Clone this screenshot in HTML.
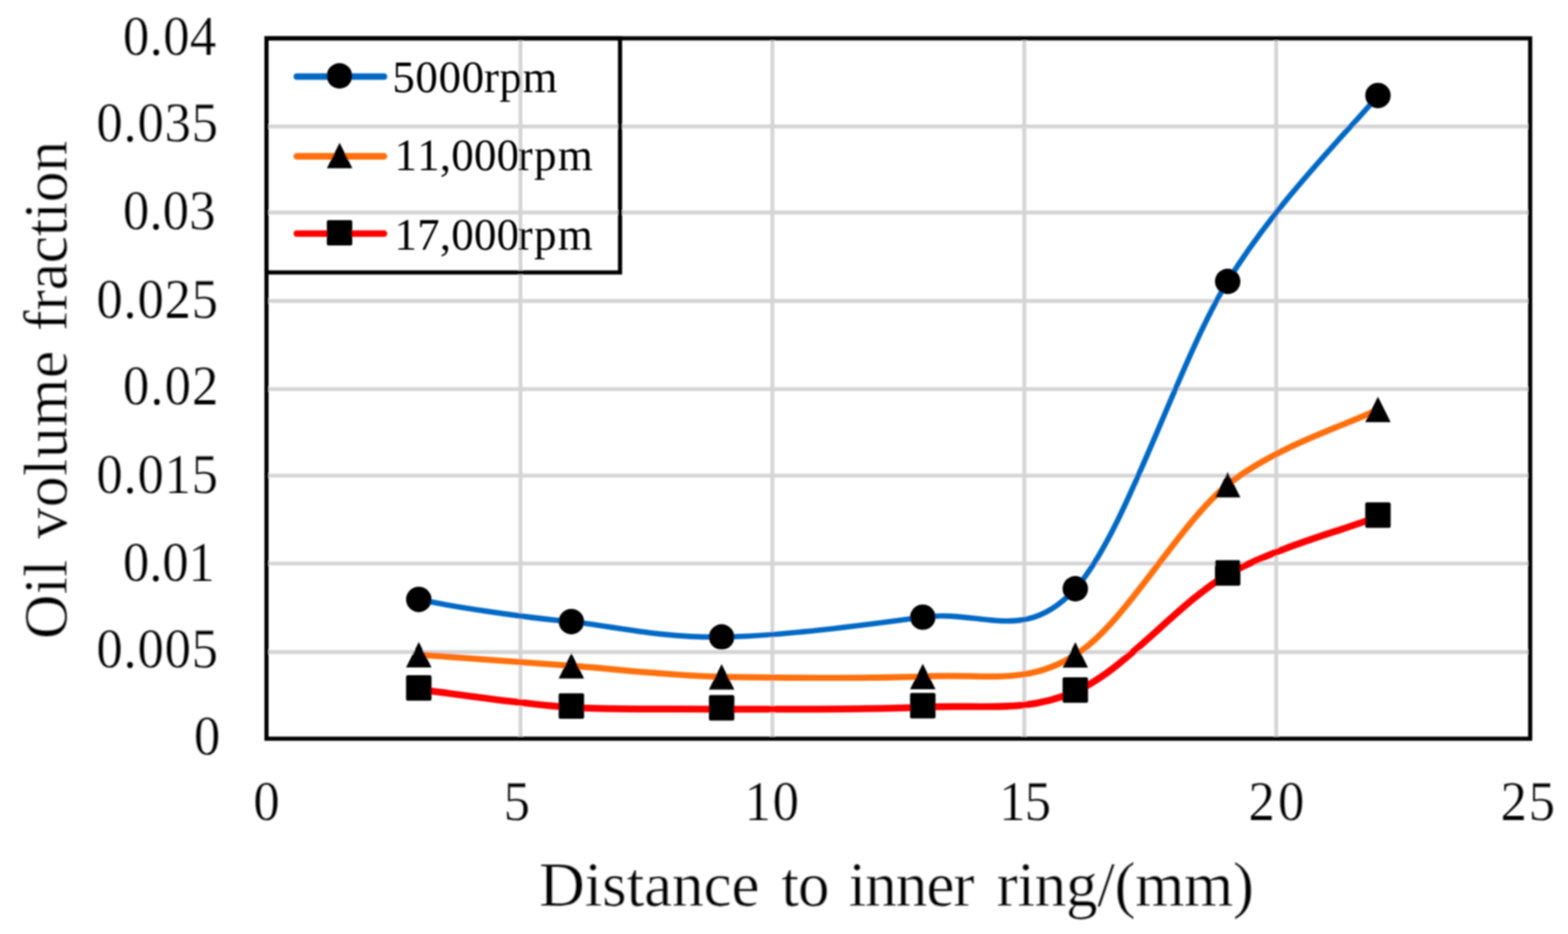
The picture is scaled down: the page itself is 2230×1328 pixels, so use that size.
<!DOCTYPE html>
<html lang="en">
<head>
<meta charset="utf-8">
<title>Oil volume fraction vs distance to inner ring</title>
<style>
html, body { margin: 0; padding: 0; background: #ffffff; }
body { width: 2230px; height: 1328px; overflow: hidden; }
svg { display: block; }
text { font-family: "Liberation Serif", "DejaVu Serif", serif; fill: #000000;
       font-kerning: none; font-variant-ligatures: none; text-rendering: geometricPrecision; }
.tick { font-size: 80px; stroke: #ffffff; stroke-width: 0.2px; }
.leg { font-size: 64px; }
.title { font-size: 90px; stroke: #ffffff; stroke-width: 0.3px; }
.ytitle { font-size: 88px; }
</style>
</head>
<body>
<svg width="2230" height="1328" viewBox="0 0 2230 1328">
<rect x="0" y="0" width="2230" height="1328" fill="#ffffff"/>
<defs><filter id="soft" x="-2%" y="-2%" width="104%" height="104%"><feGaussianBlur stdDeviation="0.90"/></filter></defs>
<g filter="url(#soft)">
<g stroke="#d5d5d5" stroke-width="5.6" fill="none">
<line x1="379.00" y1="179.70" x2="2176.20" y2="179.70"/>
<line x1="379.00" y1="302.10" x2="2176.20" y2="302.10"/>
<line x1="379.00" y1="427.90" x2="2176.20" y2="427.90"/>
<line x1="379.00" y1="553.20" x2="2176.20" y2="553.20"/>
<line x1="379.00" y1="676.20" x2="2176.20" y2="676.20"/>
<line x1="379.00" y1="801.30" x2="2176.20" y2="801.30"/>
<line x1="379.00" y1="927.10" x2="2176.20" y2="927.10"/>
<line x1="740.30" y1="54.50" x2="740.30" y2="1050.30"/>
<line x1="1098.50" y1="54.50" x2="1098.50" y2="1050.30"/>
<line x1="1456.70" y1="54.50" x2="1456.70" y2="1050.30"/>
<line x1="1815.00" y1="54.50" x2="1815.00" y2="1050.30"/>
</g>
<path d="M595.60 852.30 C631.77 860.48 740.82 877.83 812.60 883.80 C884.38 892.70 943.00 906.75 1026.30 905.70 C1109.60 904.65 1228.57 888.93 1312.40 877.50 C1396.23 866.07 1457.03 916.67 1529.30 837.10 C1601.57 757.53 1674.27 516.98 1746.00 400.10 C1817.73 283.22 1924.08 179.85 1959.70 135.80" fill="none" stroke="#0069c5" stroke-width="7.7" stroke-linecap="round" stroke-linejoin="round"/>
<path d="M595.60 930.80 C631.77 933.45 740.82 941.43 812.60 946.70 C884.38 951.97 943.00 959.87 1026.30 962.40 C1109.60 963.33 1228.57 965.50 1312.40 961.90 C1396.23 956.70 1457.03 976.67 1529.30 931.20 C1601.57 885.73 1674.27 747.27 1746.00 689.10 C1817.73 632.27 1924.08 601.35 1959.70 582.20" fill="none" stroke="#ff7008" stroke-width="8.7" stroke-linecap="round" stroke-linejoin="round"/>
<path d="M595.60 980.20 C631.77 984.48 740.82 1001.22 812.60 1005.90 C884.38 1009.52 943.00 1007.32 1026.30 1008.30 C1109.60 1008.22 1228.57 1009.58 1312.40 1005.40 C1396.23 1001.22 1457.03 1014.65 1529.30 983.20 C1601.57 951.75 1674.27 858.17 1746.00 816.70 C1817.73 776.83 1924.08 749.72 1959.70 734.40" fill="none" stroke="#ff0000" stroke-width="9.7" stroke-linecap="round" stroke-linejoin="round"/>
<g fill="#000000">
<circle cx="595.60" cy="852.30" r="18.10"/>
<circle cx="812.60" cy="883.80" r="18.10"/>
<circle cx="1026.30" cy="905.70" r="18.10"/>
<circle cx="1312.40" cy="877.50" r="18.10"/>
<circle cx="1529.30" cy="837.10" r="18.10"/>
<circle cx="1746.00" cy="400.10" r="18.10"/>
<circle cx="1959.70" cy="135.80" r="18.10"/>
<path d="M595.60 912.70 L613.70 948.90 L577.50 948.90 Z"/>
<path d="M812.60 928.60 L830.70 964.80 L794.50 964.80 Z"/>
<path d="M1026.30 944.30 L1044.40 980.50 L1008.20 980.50 Z"/>
<path d="M1312.40 943.80 L1330.50 980.00 L1294.30 980.00 Z"/>
<path d="M1529.30 913.10 L1547.40 949.30 L1511.20 949.30 Z"/>
<path d="M1746.00 671.00 L1764.10 707.20 L1727.90 707.20 Z"/>
<path d="M1959.70 564.10 L1977.80 600.30 L1941.60 600.30 Z"/>
<rect x="577.50" y="960.10" width="36.20" height="36.20" rx="2.5" ry="2.5"/>
<rect x="794.50" y="985.80" width="36.20" height="36.20" rx="2.5" ry="2.5"/>
<rect x="1008.20" y="988.20" width="36.20" height="36.20" rx="2.5" ry="2.5"/>
<rect x="1294.30" y="985.30" width="36.20" height="36.20" rx="2.5" ry="2.5"/>
<rect x="1511.20" y="963.10" width="36.20" height="36.20" rx="2.5" ry="2.5"/>
<rect x="1727.90" y="796.60" width="36.20" height="36.20" rx="2.5" ry="2.5"/>
<rect x="1941.60" y="714.30" width="36.20" height="36.20" rx="2.5" ry="2.5"/>
</g>
<rect x="379.00" y="54.50" width="1797.20" height="995.80" fill="none" stroke="#000000" stroke-width="5.9"/>
<rect x="379.00" y="54.50" width="502.80" height="332.90" fill="none" stroke="#000000" stroke-width="5.9"/>
<line x1="422.10" y1="108.90" x2="546.10" y2="108.90" stroke="#0069c5" stroke-width="9.4" stroke-linecap="round"/>
<circle cx="482.80" cy="107.90" r="18.10"/>
<text class="leg" y="131.30"><tspan x="557.98" style="letter-spacing:0.852px">5000</tspan><tspan x="688.22" style="letter-spacing:0.794px">rpm</tspan></text>
<line x1="422.10" y1="222.30" x2="546.10" y2="222.30" stroke="#ff7008" stroke-width="9.4" stroke-linecap="round"/>
<path d="M483.00 203.10 L501.10 239.30 L464.90 239.30 Z"/>
<text class="leg" y="241.70"><tspan x="561.08" style="letter-spacing:0.232px">11,000</tspan><tspan x="736.22" style="letter-spacing:1.894px">rpm</tspan></text>
<line x1="422.10" y1="332.10" x2="546.10" y2="332.10" stroke="#ff0000" stroke-width="9.4" stroke-linecap="round"/>
<rect x="464.80" y="312.90" width="36.20" height="36.20" rx="2.5" ry="2.5"/>
<text class="leg" y="354.70"><tspan x="561.08" style="letter-spacing:0.232px">17,000</tspan><tspan x="736.22" style="letter-spacing:1.894px">rpm</tspan></text>
<text class="tick" transform="translate(174.74 78.10) scale(0.9400 1)" style="letter-spacing:0.475px">0.04</text>
<text class="tick" transform="translate(137.04 201.10) scale(0.9400 1)" style="letter-spacing:1.038px">0.035</text>
<text class="tick" transform="translate(174.74 326.20) scale(0.9400 1)" style="letter-spacing:0.071px">0.03</text>
<text class="tick" transform="translate(137.04 452.40) scale(0.9400 1)" style="letter-spacing:1.038px">0.025</text>
<text class="tick" transform="translate(174.74 575.30) scale(0.9400 1)" style="letter-spacing:1.530px">0.02</text>
<text class="tick" transform="translate(137.04 700.50) scale(0.9400 1)" style="letter-spacing:1.038px">0.015</text>
<text class="tick" transform="translate(174.74 825.90) scale(0.9400 1)" style="letter-spacing:-0.220px">0.01</text>
<text class="tick" transform="translate(137.04 948.60) scale(0.9400 1)" style="letter-spacing:1.038px">0.005</text>
<text class="tick" transform="translate(275.65 1073.30) scale(0.9400 1)">0</text>
<text class="tick" transform="translate(360.20 1165.60) scale(0.9400 1)">0</text>
<text class="tick" transform="translate(716.33 1165.60) scale(0.9400 1)">5</text>
<text class="tick" transform="translate(1059.09 1165.60) scale(0.9400 1)" style="letter-spacing:2.312px">10</text>
<text class="tick" transform="translate(1420.89 1165.60) scale(0.9400 1)" style="letter-spacing:-1.439px">15</text>
<text class="tick" transform="translate(1775.60 1165.60) scale(0.9400 1)" style="letter-spacing:4.541px">20</text>
<text class="tick" transform="translate(2133.90 1165.60) scale(0.9400 1)" style="letter-spacing:2.704px">25</text>
<text class="title" y="1288.00"><tspan x="766.71" style="letter-spacing:-0.179px">Distance</tspan> <tspan x="1111.22" style="letter-spacing:-1.398px">to</tspan> <tspan x="1206.91" style="letter-spacing:-1.485px">inner</tspan> <tspan x="1417.50" style="letter-spacing:-0.509px">ring/(mm)</tspan></text>
<text class="title ytitle" y="0.00" transform="translate(94.70 0) rotate(-90)"><tspan x="-908.81" style="letter-spacing:0.261px">Oil</tspan> <tspan x="-766.00" style="letter-spacing:0.679px">volume</tspan> <tspan x="-470.71" style="letter-spacing:-0.455px">fraction</tspan></text>
</g>
</svg>
</body>
</html>
